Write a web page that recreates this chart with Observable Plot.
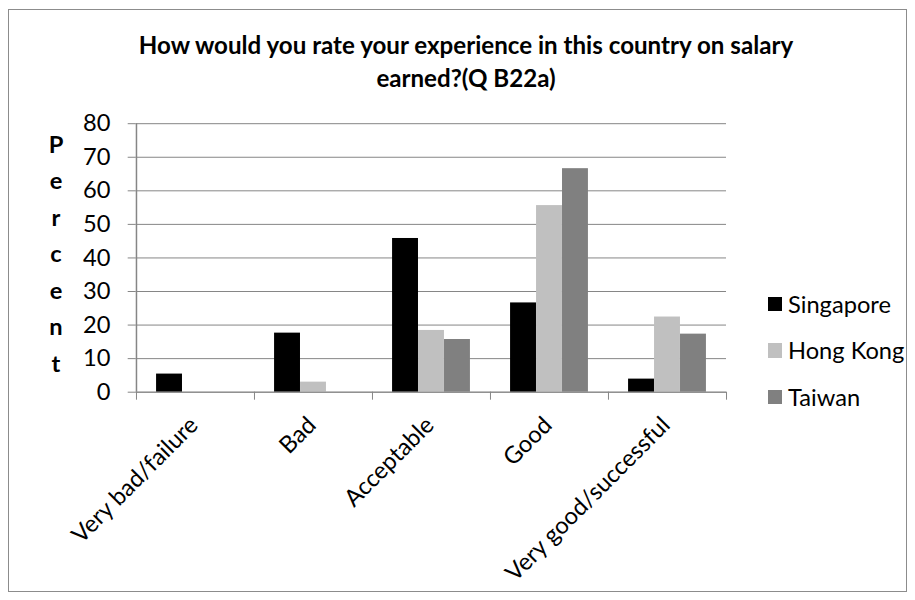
<!DOCTYPE html>
<html>
<head>
<meta charset="utf-8">
<script src="https://cdn.jsdelivr.net/npm/d3@7"></script>
<script src="https://cdn.jsdelivr.net/npm/@observablehq/plot@0.6"></script>
<style>
  body { margin: 0; background: #fff; }
  #wrap { position: relative; width: 915px; height: 600px; overflow: hidden; font-family: Lato, sans-serif; color: #000; }
  #border { position: absolute; left: 8px; top: 9px; width: 899px; height: 583px; border: 1px solid #8c8c8c; box-sizing: border-box; }
  #chart { position: absolute; left: 0; top: 0; }
  .title { position: absolute; left: 0; width: 932px; text-align: center; font-weight: bold; line-height: 34px; height: 34px; white-space: nowrap; }
  #ylabel { position: absolute; left: 46px; width: 20px; text-align: center; font-weight: bold; }
  #ylabel div { line-height: 36.5px; height: 36.5px; }
  #legend { position: absolute; left: 767.5px; }
  #legend .row { position: relative; height: 46.5px; line-height: 46.5px; white-space: nowrap; }
  #legend .sw { position: absolute; left: 0; top: 16px; width: 14.5px; height: 14.5px; }
  #legend .lab { position: absolute; left: 20.5px; top: 0; }
</style>
</head>
<body>
<div id="wrap">
  <div id="border"></div>
  <div id="chart"></div>
  <div class="title" id="t1"></div>
  <div class="title" id="t2"></div>
  <div id="ylabel"></div>
  <div id="legend"></div>
</div>
<script>
// ---- data ----
const titleLines = ["How would you rate your experience in this country on salary", "earned?(Q B22a)"];
const yLabel = "Percent";
const categories = ["Very bad/failure", "Bad", "Acceptable", "Good", "Very good/successful"];
const seriesNames = ["Singapore", "Hong Kong", "Taiwan"];
const singapore = [5.4, 17.6, 45.8, 26.6, 3.9];
const hongKong = [0, 3.0, 18.4, 55.6, 22.4];
const taiwan = [0, 0, 15.7, 66.6, 17.3];
const yTicks = [0, 10, 20, 30, 40, 50, 60, 70, 80];
const colors = ["#000000", "#c0c0c0", "#808080"];

// ---- font sizing (match Calibri-like widths with Lato) ----
const ctx = document.createElement("canvas").getContext("2d");
function tw(str, font) { ctx.font = font; return ctx.measureText(str).width; }
const baseSize = 100 * 103 / tw("Singapore", "100px Lato");
const titleSize = 100 * 658 / tw(titleLines[0], "bold 100px Lato");

// ---- table ----
const seriesValues = [singapore, hongKong, taiwan];
const rows = [];
seriesNames.forEach((s, si) => categories.forEach((c, ci) => rows.push({category: c, series: s, value: seriesValues[si][ci]})));

// ---- layout ----
const W = 915, H = 600;
const mL = 135.7, mR = 189, mT = 123.2, mB = 208.3;
const bw = (W - mL - mR) / categories.length;
const outerFrac = 0.17, barFrac = 0.22;

const barMarks = seriesNames.map((s, i) => {
  const left = bw * (outerFrac + barFrac * i);
  const right = bw - left - bw * barFrac;
  return Plot.barY(rows.filter(d => d.series === s), {
    x: "category", y: "value", fill: colors[i], insetLeft: left, insetRight: right
  });
});

const axisColor = "#868686";
const chart = Plot.plot({
  width: W, height: H,
  marginLeft: mL, marginRight: mR, marginTop: mT, marginBottom: mB,
  x: {domain: categories, padding: 0, axis: null},
  y: {domain: [0, 80], axis: null},
  style: {fontFamily: "Lato, sans-serif", fontSize: baseSize + "px", color: "#000", background: "transparent", overflow: "visible"},
  marks: [
    Plot.gridY(yTicks, {stroke: axisColor, strokeOpacity: 1, strokeWidth: 1}),
    ...barMarks,
    Plot.ruleY([0], {stroke: axisColor, strokeWidth: 1}),
    Plot.ruleX([categories[0]], {y1: 0, y2: 80, dx: -bw / 2, stroke: axisColor, strokeWidth: 1.5}),
    Plot.axisY({ticks: yTicks, tickSize: 8, tickPadding: 17.7, stroke: axisColor, strokeOpacity: 1, label: null, fontSize: baseSize}),
    Plot.axisX({tickSize: 8, tickFormat: () => "", dx: -bw / 2, stroke: axisColor, strokeOpacity: 1, label: null}),
    Plot.axisX({ticks: [categories[categories.length - 1]], tickSize: 8, tickFormat: () => "", dx: bw / 2, stroke: axisColor, strokeOpacity: 1, label: null}),
    Plot.axisX({tickSize: 0, tickRotate: -45, tickPadding: 29, dx: -1.5, label: null, fontSize: baseSize})
  ]
});
document.getElementById("chart").appendChild(chart);

// ---- title ----
const t1 = document.getElementById("t1"), t2 = document.getElementById("t2");
t1.textContent = titleLines[0]; t2.textContent = titleLines[1];
t1.style.fontSize = titleSize + "px"; t2.style.fontSize = titleSize + "px";
t1.style.top = (44.5 - 17) + "px"; t2.style.top = (78.3 - 17) + "px";

// ---- y label ----
const yl = document.getElementById("ylabel");
yl.style.fontSize = baseSize + "px";
yl.style.top = (144 - 18.25) + "px";
for (const ch of yLabel) { const d = document.createElement("div"); d.textContent = ch; yl.appendChild(d); }

// ---- legend ----
const lg = document.getElementById("legend");
lg.style.top = (304 - 23.25) + "px";
lg.style.fontSize = baseSize + "px";
seriesNames.forEach((s, i) => {
  const r = document.createElement("div"); r.className = "row";
  const sw = document.createElement("div"); sw.className = "sw"; sw.style.background = colors[i];
  const lab = document.createElement("div"); lab.className = "lab"; lab.textContent = s;
  r.appendChild(sw); r.appendChild(lab); lg.appendChild(r);
});
</script>
</body>
</html>
